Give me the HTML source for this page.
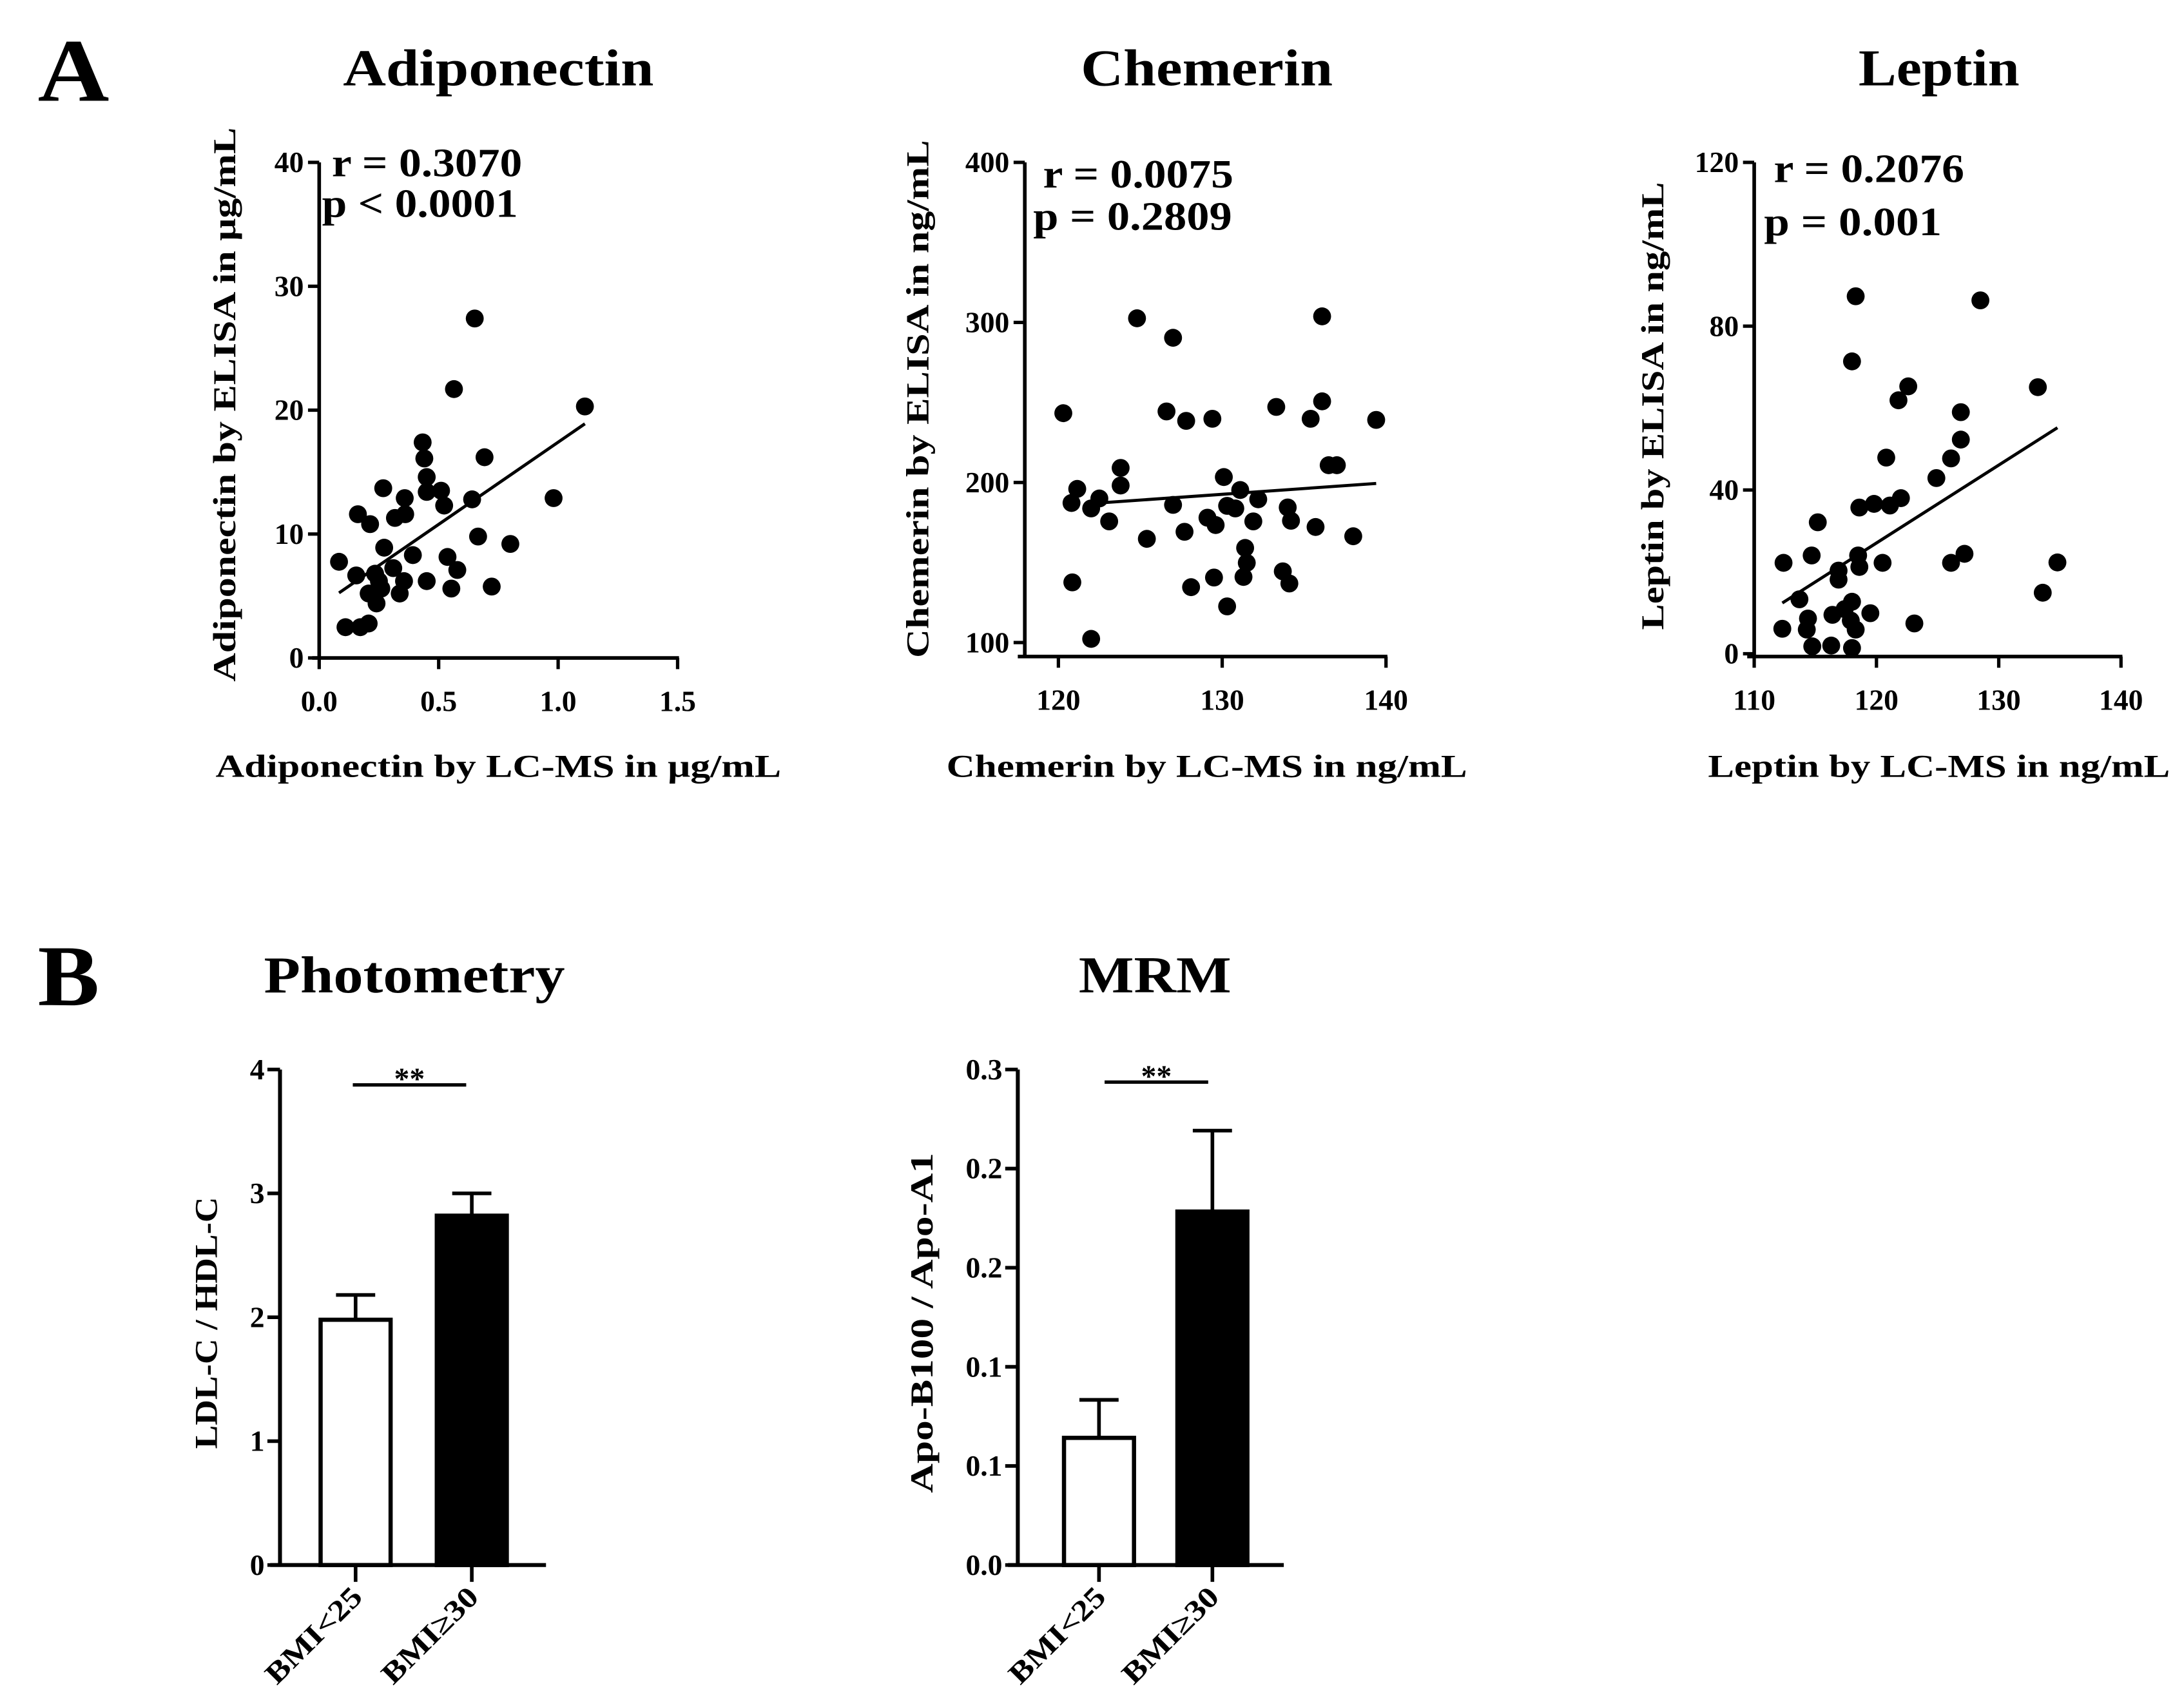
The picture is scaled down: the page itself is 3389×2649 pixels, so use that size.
<!DOCTYPE html>
<html><head><meta charset="utf-8"><style>
html,body{margin:0;padding:0;background:#fff;}
svg{display:block;}
text{font-family:"Liberation Serif",serif;fill:#000;}
</style></head><body>
<svg id="fig" xmlns="http://www.w3.org/2000/svg" width="3389" height="2649" viewBox="0 0 1560 1219.4" preserveAspectRatio="none">
<rect width="1560" height="1219.4" fill="#fff"/>
</svg>
<script>
// ---- Adiponectin data ----
const adipoX=[0.083,0.11,0.155,0.162,0.172,0.207,0.213,0.268,0.272,0.234,0.207,0.24,0.26,0.25,0.317,0.358,0.36,0.31,0.355,0.337,0.392,0.433,0.44,0.45,0.45,0.51,0.523,0.45,0.537,0.578,0.553,0.651,0.564,0.64,0.692,0.665,0.722,0.80,0.981,1.112];
const adipoY=[7.76,2.48,6.66,11.6,2.48,2.78,10.8,13.7,8.9,6.8,5.2,4.4,5.6,6.2,11.3,12.9,11.6,7.25,6.2,5.2,8.3,17.4,16.1,14.6,13.4,13.5,12.3,6.2,8.15,7.1,5.6,27.4,21.7,12.8,16.2,9.8,5.76,9.2,12.9,20.3];
const adipoFitX=[0.083,1.112];
const adipoFitY=[5.25,18.9];
const adipoXTicks=[0,0.5,1.0,1.5];
const adipoXTickLabels=["0.0","0.5","1.0","1.5"];
const adipoYTicks=[0,10,20,30,40];
// ---- Chemerin data ----
const chemX=[120.3,120.85,120.8,121.15,122,122,122.5,123.1,123.8,123.8,124.8,125.4,126.6,127,127,127.8,127.7,128.1,129.4,129.1,129.6,129.5,130.1,130.3,130.3,130.8,131.1,131.4,131.5,131.3,131.9,132.2,133.3,134,134.2,133.7,134.1,135.4,136.1,136.1,135.7,136.5,137,138,139.4];
const chemY=[243.3,137.6,187.2,196,102.3,183.8,190,175.7,198.1,209.1,302.6,164.8,244.4,290.4,186,238.5,169.2,134.6,239.8,178,173.4,140.6,203.4,122.6,185.4,183.8,195.3,159.1,149.8,141,175.7,189.5,247.2,184.4,176.1,144.5,136.9,239.8,303.8,250.7,172.2,210.8,210.8,166.4,239.1];
const chemFitX=[122.5,139.4];
const chemFitY=[187.2,199.4];
const chemXTicks=[120,130,140];
const chemYTicks=[100,200,300,400];
// ---- Leptin data ----
const lepX=[112.3,112.4,113.7,114.4,114.3,114.75,114.7,115.2,116.3,116.4,116.9,116.9,117.4,118,118,118.3,117.9,118,118.3,118.6,118.5,118.6,119.5,119.8,120.5,120.8,121.1,122,121.8,122.6,123.1,124.9,126.1,126.1,126.9,126.9,127.2,128.5,133.2,133.6,134.8];
const lepY=[6.1,22.2,13.3,8.6,5.9,1.8,24,32.1,2,9.5,18.1,20.3,10.9,1.4,12.7,5.9,8.1,71.4,87.3,35.7,24,21.2,9.9,36.6,22.2,47.9,36.2,38,61.9,65.3,7.4,42.9,22.2,47.7,52.3,59,24.4,86.3,65.1,14.9,22.3];
const lepFitX=[112.3,134.8];
const lepFitY=[12.4,55.2];
const lepXTicks=[110,120,130,140];
const lepYTicks=[0,40,80,120];
// ---- Bar data ----
const barCats=["BMI<25","BMI\u226530"];
const photoVals=[1.98,2.82];
const photoErr=[0.2,0.18];
const photoYTicks=[0,1,2,3,4];
const mrmVals=[0.077,0.214];
const mrmErr=[0.023,0.049];
const mrmYTicks=[0,0.06,0.12,0.18,0.24,0.3];
const mrmYTickLabels=["0.0","0.1","0.1","0.2","0.2","0.3"];

const svg=document.getElementById('fig');
const NS='http://www.w3.org/2000/svg';
function mk(tag,attrs,parent){const e=document.createElementNS(NS,tag);for(const k in attrs)e.setAttribute(k,attrs[k]);(parent||svg).appendChild(e);return e;}
function txt(s,attrs,parent){const e=mk('text',attrs,parent);e.textContent=s;return e;}
function lin(d0,d1,r0,r1){return v=>r0+(v-d0)/(d1-d0)*(r1-r0);}
const LA='spacingAndGlyphs';

function scatter(o){
  const g=mk('g',{});
  
  
  const sx=lin(o.xd[0],o.xd[1],o.xr[0],o.xr[1]);
  const sy=lin(o.yd[0],o.yd[1],o.yr[0],o.yr[1]);
  const t=txt(o.title,{x:o.titleX,y:61,'text-anchor':'middle','font-size':37,'font-weight':'bold',textLength:o.titleW,lengthAdjust:LA},g);
  
  
  const ya=mk('line',{x1:o.axisX,y1:o.yr[1],x2:o.axisX,y2:o.axisY,stroke:'#000','stroke-width':2.6},g);
  
  
  const xa=mk('line',{x1:o.axisX-5,y1:o.axisY,x2:o.xr[1]+1,y2:o.axisY,stroke:'#000','stroke-width':2.6},g);
  
  
  o.yt.forEach(v=>{
    mk('line',{x1:o.axisX-8,y1:sy(v),x2:o.axisX,y2:sy(v),stroke:'#000','stroke-width':2.4},g);
    const l=txt(String(v),{x:o.axisX-11,y:sy(v)+7,'text-anchor':'end','font-size':21,'font-weight':'bold'},g);
    
    
  });
  o.xt.forEach((v,i)=>{
    mk('line',{x1:sx(v),y1:o.axisY,x2:sx(v),y2:o.axisY+8,stroke:'#000','stroke-width':2.4},g);
    const l=txt(o.xtl?o.xtl[i]:String(v),{x:sx(v),y:o.axisY+38,'text-anchor':'middle','font-size':21,'font-weight':'bold'},g);
    
    
  });
  o.px.forEach((v,i)=>{
    const c=mk('circle',{cx:sx(v),cy:sy(o.py[i]),r:6.4,fill:'#000'},g);
    
    
  });
  const f=mk('line',{x1:sx(o.fx[0]),y1:sy(o.fy[0]),x2:sx(o.fx[1]),y2:sy(o.fy[1]),stroke:'#000','stroke-width':2.2},g);
  
  
  const r=txt(o.r,{x:o.rX,y:o.rY,'font-size':29,'font-weight':'bold',textLength:o.rW,lengthAdjust:LA},g);
  
  
  const p=txt(o.p,{x:o.pX,y:o.pY,'font-size':29,'font-weight':'bold',textLength:o.pW,lengthAdjust:LA},g);
  
  
  const xt=txt(o.xTitle,{x:o.titleX,y:555,'text-anchor':'middle','font-size':23,'font-weight':'bold',textLength:o.xTitleW,lengthAdjust:LA},g);
  
  
  const yt=txt(o.yTitle,{x:0,y:0,'text-anchor':'middle','font-size':23,'font-weight':'bold',textLength:o.yTitleW,lengthAdjust:LA,transform:`translate(${o.yTitleX},${o.yTitleY}) rotate(-90)`},g);
  
  
}

scatter({name:'adiponectin',title:'Adiponectin',titleX:356,titleW:222,xd:[0,1.5],xr:[228,484],yd:[0,40],yr:[470,116],axisX:228,axisY:470,
  xt:adipoXTicks,xtl:adipoXTickLabels,yt:adipoYTicks,px:adipoX,py:adipoY,fx:adipoFitX,fy:adipoFitY,
  r:'r = 0.3070',rX:237,rY:126,rW:136,p:'p < 0.0001',pX:230,pY:155,pW:140,xTitle:'Adiponectin by LC-MS in \u03bcg/mL',xTitleW:404,
  yTitle:'Adiponectin by ELISA in \u03bcg/mL',yTitleW:396,yTitleX:168,yTitleY:289});
scatter({name:'chemerin',title:'Chemerin',titleX:862,titleW:180,xd:[120,140],xr:[756,990],yd:[100,400],yr:[459,116],axisX:732,axisY:469,
  xt:chemXTicks,yt:chemYTicks,px:chemX,py:chemY,fx:chemFitX,fy:chemFitY,
  r:'r = 0.0075',rX:745,rY:134,rW:136,p:'p = 0.2809',pX:738,pY:164,pW:142,xTitle:'Chemerin by LC-MS in ng/mL',xTitleW:372,
  yTitle:'Chemerin by ELISA in ng/mL',yTitleW:370,yTitleX:663,yTitleY:285});
scatter({name:'leptin',title:'Leptin',titleX:1385,titleW:115,xd:[110,140],xr:[1253,1515],yd:[0,120],yr:[467,116],axisX:1253,axisY:469,
  xt:lepXTicks,yt:lepYTicks,px:lepX,py:lepY,fx:lepFitX,fy:lepFitY,
  r:'r = 0.2076',rX:1267,rY:130,rW:136,p:'p = 0.001',pX:1260,pY:168,pW:127,xTitle:'Leptin by LC-MS in ng/mL',xTitleW:330,
  yTitle:'Leptin by ELISA in ng/mL',yTitleW:320,yTitleX:1188,yTitleY:290});

function bars(o){
  const g=mk('g',{});
  
  
  const sy=lin(0,o.ymax,1118,764);
  const t=txt(o.title,{x:o.titleX,y:709,'text-anchor':'middle','font-size':37,'font-weight':'bold',textLength:o.titleW,lengthAdjust:LA},g);
  
  
  o.vals.forEach((v,i)=>{
    const cx=o.cx[i];
    const e=mk('line',{x1:cx,y1:sy(v),x2:cx,y2:sy(v+o.err[i]),stroke:'#000','stroke-width':2.6},g);
    
    
    mk('line',{x1:cx-14,y1:sy(v+o.err[i]),x2:cx+14,y2:sy(v+o.err[i]),stroke:'#000','stroke-width':2.6},g);
    const b=mk('rect',{x:cx-25,y:sy(v),width:50,height:sy(0)-sy(v),fill:i===0?'#fff':'#000',stroke:'#000','stroke-width':3},g);
    
    
    mk('line',{x1:cx,y1:1118,x2:cx,y2:1130,stroke:'#000','stroke-width':2.6},g);
    const l=txt(barCats[i],{x:0,y:0,'text-anchor':'end','font-size':21,'font-weight':'bold',textLength:88,lengthAdjust:LA,transform:`translate(${cx+6},${1142}) rotate(-45)`},g);
    
    
  });
  mk('line',{x1:o.axisX,y1:764,x2:o.axisX,y2:1118,stroke:'#000','stroke-width':2.8},g);
  mk('line',{x1:o.axisX-7,y1:1118,x2:o.axisX+190,y2:1118,stroke:'#000','stroke-width':2.8},g);
  o.yt.forEach((v,i)=>{
    mk('line',{x1:o.axisX-9,y1:sy(v),x2:o.axisX,y2:sy(v),stroke:'#000','stroke-width':2.6},g);
    const l=txt(o.ytl?o.ytl[i]:String(v),{x:o.axisX-11,y:sy(v)+7,'text-anchor':'end','font-size':21,'font-weight':'bold'},g);
    
    
  });
  const s=mk('line',{x1:o.sig[0],y1:o.sigY,x2:o.sig[1],y2:o.sigY,stroke:'#000','stroke-width':2.4},g);
  
  
  const st=txt('**',{x:(o.sig[0]+o.sig[1])/2,y:o.sigY+3,'text-anchor':'middle','font-size':22,'font-weight':'bold'},g);
  
  
  const yt=txt(o.yTitle,{x:0,y:0,'text-anchor':'middle','font-size':23,'font-weight':'bold',textLength:o.yTitleW,lengthAdjust:LA,transform:`translate(${o.yTitleX},945) rotate(-90)`},g);
  
  
}
bars({name:'photometry',title:'Photometry',titleX:296,titleW:215,ymax:4,vals:photoVals,err:photoErr,cx:[254,337],axisX:200,yt:photoYTicks,
  sig:[252,333],sigY:775,yTitle:'LDL-C / HDL-C',yTitleW:180,yTitleX:155});
bars({name:'mrm',title:'MRM',titleX:825,titleW:109,ymax:0.3,vals:mrmVals,err:mrmErr,cx:[785,866],axisX:727,yt:mrmYTicks,ytl:mrmYTickLabels,
  sig:[789,863],sigY:773,yTitle:'Apo-B100 / Apo-A1',yTitleW:243,yTitleX:666});

const A=txt('A',{x:27,y:72,'font-size':64,'font-weight':'bold',textLength:51,lengthAdjust:LA});


const B=txt('B',{x:27,y:718,'font-size':62,'font-weight':'bold',textLength:44,lengthAdjust:LA});


</script>
</body></html>
